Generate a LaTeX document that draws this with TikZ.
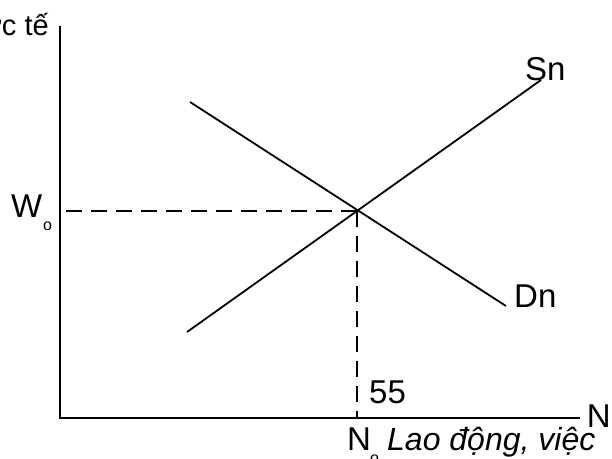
\documentclass[tikz,border=0pt]{standalone}
\usepackage{fontspec}
\setmainfont{Liberation Sans}
\tikzset{
	lbl/.style={font=\fontsize{33}{35}\selectfont, inner sep=0pt, anchor=base west},
	sublbl/.style={font=\fontsize{16}{17}\selectfont, inner sep=0pt, anchor=base west},
	curve/.style={line width=1.8pt},
	guide/.style={line width=2.8pt, dash pattern=on 16pt off 9pt}
}
\begin{document}
\begin{tikzpicture}[x=1pt, y=-1pt]
		\useasboundingbox (0,0) rectangle (612,458);
		% axes
		\coordinate (O) at (60,418);
		\coordinate (ytop) at (60,26);
		\coordinate (xend) at (580,418);
		\draw[line width=2pt] (ytop) -- (O) -- (xend);
		% equilibrium and curves
		\coordinate (E) at (357,211);
		\coordinate (S1) at (187,332);
		\coordinate (S2) at (541,80);
		\coordinate (D1) at (190,102);
		\coordinate (D2) at (506,306);
		\draw[curve] (S1) -- (S2);
		\draw[curve] (D1) -- (D2);
		\draw[guide] (E) -- (E -| O);
		\draw[guide] (E) -- (E |- O);
		% labels
		\node[anchor=base east, inner sep=0pt, font=\fontsize{29}{31}\selectfont] (ylab) at (49,35) {Tiền lương thực tế};
		\node[lbl] (sn) at (525,80) {Sn};
		\node[lbl] (dn) at (514,307) {Dn};
		\node[lbl] (w) at (11,217) {W};
		\node[sublbl] (wo) at (43,230) {o};
		\node[lbl] (val) at (369,403) {55};
		\node[lbl, anchor=base east] (xlab) at (611,427) {N};
		\node[lbl] (n) at (347,450) {N};
		\node[sublbl] (no) at (370,463) {o};
		\node[lbl, font=\fontsize{32}{34}\selectfont\itshape] (xtext) at (387,450) {Lao động, việc};
	\end{tikzpicture}
\end{document}
